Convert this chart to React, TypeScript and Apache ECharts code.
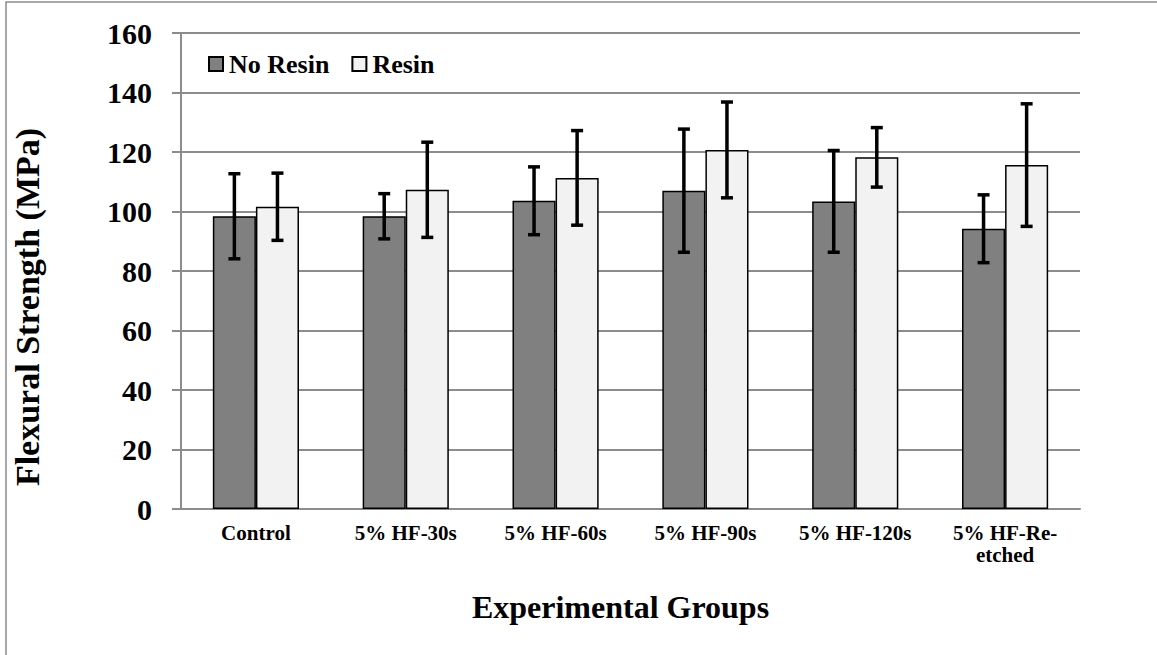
import React, { useEffect, useRef } from "react";
import * as echarts from "echarts";

const categories = ["Control", "5% HF-30s", "5% HF-60s", "5% HF-90s", "5% HF-120s", "5% HF-Re-\netched"];
const noResin = [98.4, 98.4, 103.6, 107.0, 103.4, 94.2];
const noResinErr = [14.3, 7.6, 11.4, 20.7, 17.1, 11.4];
const resin = [101.6, 107.3, 111.3, 120.7, 118.2, 115.6];
const resinErr = [11.3, 16.0, 15.9, 16.1, 10.0, 20.6];
const yTicks = [0, 20, 40, 60, 80, 100, 120, 140, 160];

const FONT = "'Liberation Serif', 'Times New Roman', serif";
const CAT_GAP = 0.425;

export default function App() {
  const ref = useRef<HTMLDivElement>(null);
  useEffect(() => {
    if (!ref.current) return;
    const chart = echarts.init(ref.current, null, { renderer: "svg" });

    const errData = (vals: number[], errs: number[], side: number) =>
      vals.map((v, i) => [i, v - errs[i], v + errs[i], side]);

    const renderErr = (params: any, api: any) => {
      const idx = api.value(0);
      const lo = api.coord([idx, api.value(1)]);
      const hi = api.coord([idx, api.value(2)]);
      const side = api.value(3);
      const catW = api.size([1, 0])[0];
      const bw = (catW * (1 - CAT_GAP)) / 2;
      const x = lo[0] + side * bw / 2;
      const cap = 6;
      const style = { stroke: "#000", lineWidth: 3.5 };
      return {
        type: "group",
        children: [
          { type: "line", shape: { x1: x, y1: lo[1], x2: x, y2: hi[1] }, style },
          { type: "line", shape: { x1: x - cap, y1: lo[1], x2: x + cap, y2: lo[1] }, style },
          { type: "line", shape: { x1: x - cap, y1: hi[1], x2: x + cap, y2: hi[1] }, style },
        ],
      };
    };

    chart.setOption({
      animation: false,
      backgroundColor: "#fff",
      textStyle: { fontFamily: FONT },
      graphic: [
        {
          type: "rect",
          shape: { x: 6, y: 2, width: 1300, height: 800 },
          style: { fill: "none", stroke: "#8c8c8c", lineWidth: 1.5 },
          silent: true,
        },
      ],
      grid: { left: 181, right: 77, top: 33, bottom: 146 },
      legend: {
        left: 203,
        top: 46,
        itemWidth: 14,
        itemHeight: 14,
        itemGap: 22,
        icon: "rect",
        textStyle: { fontFamily: FONT, fontWeight: "bold", fontSize: 26, color: "#000", padding: [0, 0, 0, 1] },
        data: ["No Resin", "Resin"],
      },
      xAxis: {
        type: "category",
        data: categories,
        name: "Experimental Groups",
        nameLocation: "middle",
        nameGap: 82,
        nameTextStyle: { fontFamily: FONT, fontWeight: "bold", fontSize: 32, color: "#000", padding: [0, 20, 0, 0] },
        axisLine: { lineStyle: { color: "#8c8c8c", width: 2 } },
        axisTick: { show: false },
        axisLabel: {
          fontFamily: FONT,
          fontWeight: "bold",
          fontSize: 21,
          color: "#000",
          margin: 13,
          lineHeight: 22,
          interval: 0,
        },
      },
      yAxis: {
        type: "value",
        min: yTicks[0],
        max: yTicks[yTicks.length - 1],
        interval: 20,
        name: "Flexural Strength (MPa)",
        nameLocation: "middle",
        nameGap: 137,
        nameTextStyle: { fontFamily: FONT, fontWeight: "bold", fontSize: 34, color: "#000", padding: [0, 72, 0, 0] },
        axisLine: { show: true, lineStyle: { color: "#8c8c8c", width: 2 } },
        axisTick: { show: true, length: 9, lineStyle: { color: "#8c8c8c", width: 2 } },
        splitLine: { lineStyle: { color: "#8c8c8c", width: 2 } },
        axisLabel: { fontFamily: FONT, fontWeight: "bold", fontSize: 30, color: "#000", margin: 29 },
      },
      series: [
        {
          name: "No Resin",
          type: "bar",
          data: noResin,
          barGap: "0%",
          barCategoryGap: CAT_GAP * 100 + "%",
          itemStyle: { color: "#808080", borderColor: "#000", borderWidth: 1.5 },
        },
        {
          name: "Resin",
          type: "bar",
          data: resin,
          barGap: "0%",
          barCategoryGap: CAT_GAP * 100 + "%",
          itemStyle: { color: "#f2f2f2", borderColor: "#000", borderWidth: 1.5 },
        },
        {
          type: "custom",
          renderItem: renderErr,
          data: errData(noResin, noResinErr, -1),
          z: 10,
          silent: true,
        },
        {
          type: "custom",
          renderItem: renderErr,
          data: errData(resin, resinErr, 1),
          z: 10,
          silent: true,
        },
      ],
    });
    return () => chart.dispose();
  }, []);
  return (
    <div
      ref={ref}
      style={{ position: "absolute", left: 0, top: 0, width: 1157, height: 655 }}
    />
  );
}
